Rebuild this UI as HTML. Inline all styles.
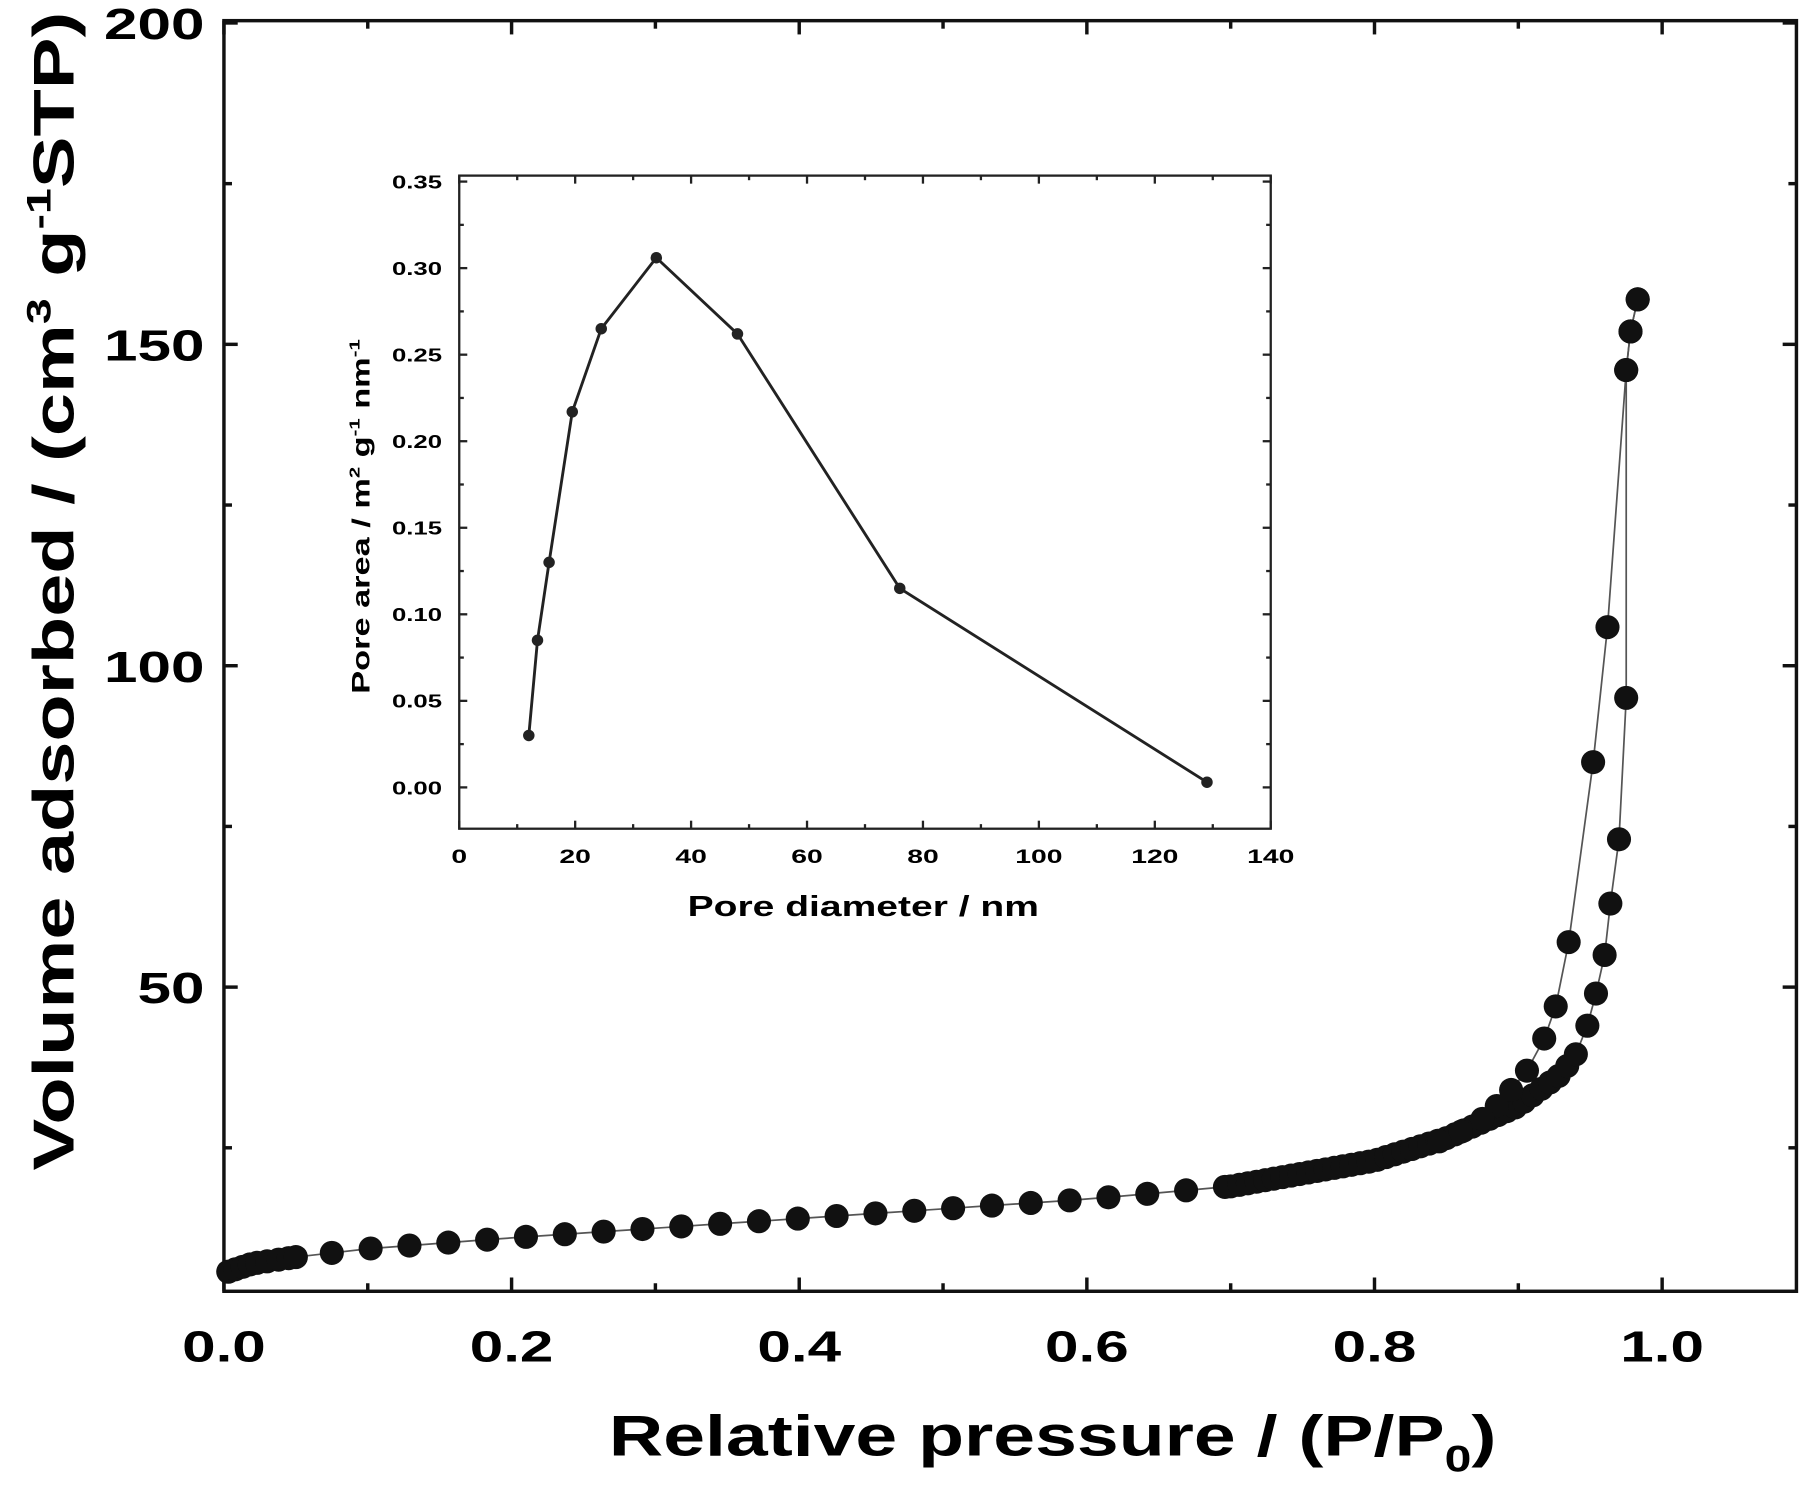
<!DOCTYPE html>
<html><head><style>html,body{margin:0;padding:0;background:#fff}svg{display:block}</style></head>
<body>
<svg id="s" width="1800" height="1491" viewBox="0 0 1568 1299" xmlns="http://www.w3.org/2000/svg" font-family="Liberation Sans, Arial, sans-serif" font-weight="bold">
<rect width="1568" height="1299" fill="#fff"/>
<g id="g"></g>
<text transform="translate(917,1268) scale(1.31,1)" font-size="50" text-anchor="middle">Relative pressure / (P/P<tspan font-size="32" dy="14">0</tspan><tspan dy="-14">)</tspan></text>
<text transform="translate(64,515) rotate(-90) scale(1.35,1)" font-size="50" text-anchor="middle">Volume adsorbed / (cm<tspan font-size="30" dy="-20">3</tspan><tspan dy="20"> g</tspan><tspan font-size="30" dy="-20">-1</tspan><tspan dy="20">STP)</tspan></text>
<text transform="translate(752,798) scale(1.36,1)" font-size="25" text-anchor="middle">Pore diameter / nm</text>
<text transform="translate(322,450) rotate(-90) scale(1.36,1)" font-size="22" text-anchor="middle">Pore area / m<tspan font-size="13" dy="-9">2</tspan><tspan dy="9"> g</tspan><tspan font-size="13" dy="-9">-1</tspan><tspan dy="9"> nm</tspan><tspan font-size="13" dy="-9">-1</tspan></text>
</svg>
<script>
const NS="http://www.w3.org/2000/svg",g=document.getElementById('g');
function el(t,a,txt){const e=document.createElementNS(NS,t);for(const k in a)e.setAttribute(k,a[k]);if(txt!==undefined)e.textContent=txt;g.appendChild(e);return e;}
function lab(x,y,s,fs,anchor,sx){el('text',{transform:`translate(${x},${y}) scale(${sx},1)`,'font-size':fs,'text-anchor':anchor},s);}
const L=195,R=1565,T=18,B=1125;
const X=p=>195+p*1253, Y=v=>1140-v*5.6;
el('rect',{x:L,y:T,width:R-L,height:B-T,fill:'none',stroke:'#111','stroke-width':3});
for(let i=0;i<=11;i++){const x=X(i*0.1),len=i%2?7:12;
 el('line',{x1:x,y1:B,x2:x,y2:B-len,stroke:'#111','stroke-width':3});
 el('line',{x1:x,y1:T,x2:x,y2:T+len,stroke:'#111','stroke-width':3});
 if(i%2==0&&i<=10)lab(x,1186,(i/10).toFixed(1),38,'middle',1.38);}
for(let v=25;v<=200;v+=25){const y=Y(v),len=(v%50)?7:12;
 el('line',{x1:L,y1:y,x2:L+len,y2:y,stroke:'#111','stroke-width':3});
 el('line',{x1:R,y1:y,x2:R-len,y2:y,stroke:'#111','stroke-width':3});
 if(v%50==0)lab(178,y+14,String(v),38,'end',1.38);}
const ak=[[0,5.5],[0.02,7],[0.05,8],[0.1,9.3],[0.2,11],[0.3,12.5],[0.4,14],[0.5,15.5],[0.6,17],[0.7,19],[0.8,23],[0.85,26.5],[0.9,31.5],[0.93,36.5],[0.948,42]];
function f(p){for(let i=1;i<ak.length;i++)if(p<=ak[i][0]){const a=ak[i-1],b=ak[i];return a[1]+(b[1]-a[1])*(p-a[0])/(b[0]-a[0]);}return 42;}
let ads=[];
[0.003,0.008,0.013,0.018,0.023,0.03,0.038,0.045,0.05].forEach(p=>ads.push([p,f(p)]));
for(let p=0.075;p<0.7;p+=0.027)ads.push([p,f(p)]);
for(let p=0.7;p<0.945;p+=0.006)ads.push([p,f(p)]);
ads.push([0.948,44],[0.954,49],[0.960,55],[0.964,63],[0.970,73],[0.975,95],[0.975,146],[0.978,152],[0.983,157]);
let des=[[0.983,157],[0.978,152],[0.975,146],[0.962,106],[0.952,85],[0.935,57],[0.926,47],[0.918,42],[0.906,37],[0.895,34],[0.885,31.5],[0.875,29.5],[0.86,27.5],[0.845,26]];
const ln=a=>a.map(q=>X(q[0]).toFixed(1)+','+Y(q[1]).toFixed(1)).join(' ');
el('polyline',{points:ln(ads),fill:'none',stroke:'#555','stroke-width':1.5});
el('polyline',{points:ln(des),fill:'none',stroke:'#555','stroke-width':1.5});
ads.concat(des).forEach(q=>el('circle',{cx:X(q[0]),cy:Y(q[1]),r:10.5,fill:'#111'}));
const iL=400,iR=1107,iT=153,iB=722;
const x2=d=>400+d*5.05, y2=v=>686-v*1508;
el('rect',{x:iL,y:iT,width:iR-iL,height:iB-iT,fill:'#fff',stroke:'#222','stroke-width':2});
for(let d=0;d<=140;d+=10){const x=x2(d),len=d%20?4:7;
 el('line',{x1:x,y1:iB,x2:x,y2:iB-len,stroke:'#222','stroke-width':2});
 el('line',{x1:x,y1:iT,x2:x,y2:iT+len,stroke:'#222','stroke-width':2});
 if(d%20==0)lab(x,752,String(d),17,'middle',1.45);}
for(let k=0;k<=14;k++){const v=k*0.025,y=y2(v),len=k%2?4:7;
 el('line',{x1:iL,y1:y,x2:iL+len,y2:y,stroke:'#222','stroke-width':2});
 el('line',{x1:iR,y1:y,x2:iR-len,y2:y,stroke:'#222','stroke-width':2});
 if(k%2==0)lab(385,y+6,v.toFixed(2),16,'end',1.4);}
const ins=[[12,0.03],[13.5,0.085],[15.5,0.13],[19.5,0.217],[24.5,0.265],[34,0.306],[48,0.262],[76,0.115],[129,0.003]];
el('polyline',{points:ins.map(q=>x2(q[0])+','+y2(q[1])).join(' '),fill:'none',stroke:'#222','stroke-width':2.5});
ins.forEach(q=>el('circle',{cx:x2(q[0]),cy:y2(q[1]),r:5,fill:'#222'}));
</script>
</body></html>
